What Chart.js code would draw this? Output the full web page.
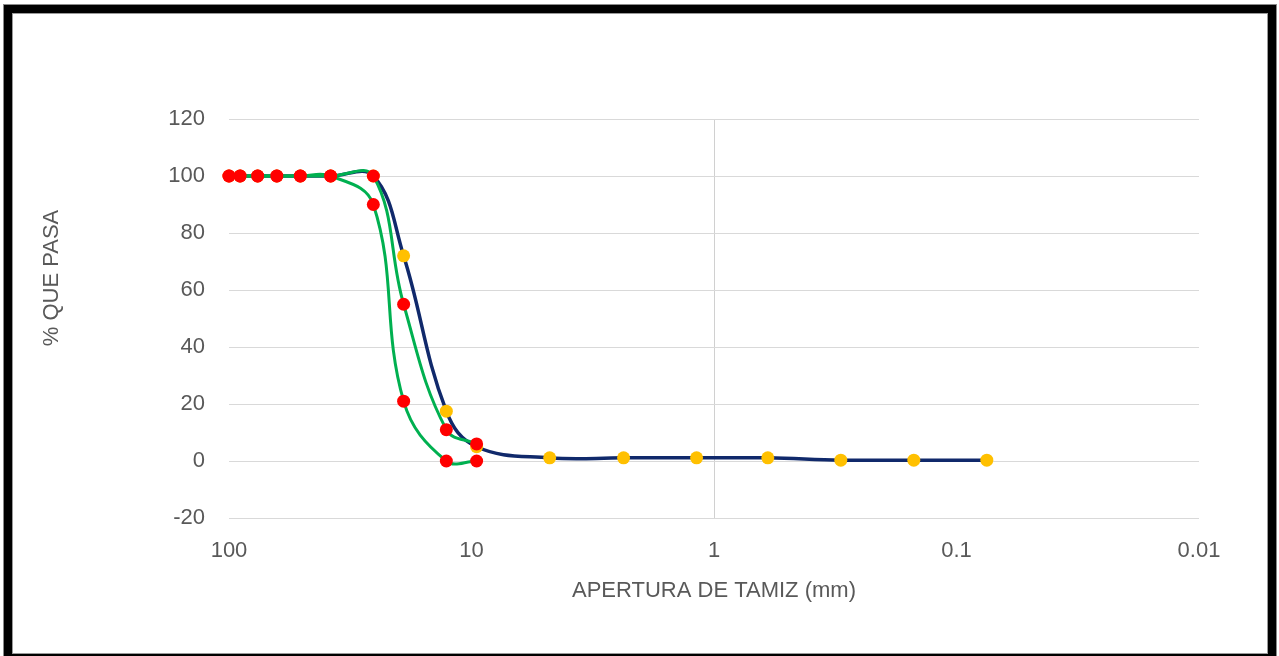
<!DOCTYPE html>
<html>
<head>
<meta charset="utf-8">
<script src="https://cdn.jsdelivr.net/npm/chart.js@4"></script>
<style>
  html, body { margin: 0; padding: 0; background: #fff; overflow: hidden; }
  #wrap { position: absolute; left: 0; top: 0; width: 1279px; height: 656px; }
  #myChart { position: absolute; left: 0; top: 0; }
  #frame {
    position: absolute; left: 4px; top: 5px; width: 1256px; height: 641px;
    border: 8px solid #000; box-shadow: 0 0 0 1px #8a8a8a, inset 0 0 0 1px #9a9a9a;
    pointer-events: none;
  }
</style>
</head>
<body>
<div id="wrap">
  <canvas id="myChart" width="1279" height="656"></canvas>
  <div id="frame"></div>
</div>
<script>
// ***** datos *****
var tamices = [100, 90, 76.2, 63.5, 50.8, 38.1, 25.4, 19.05, 12.7, 9.525, 4.76, 2.36, 1.18, 0.6, 0.3, 0.15, 0.075];
var pasaMuestra = [100, 100, 100, 100, 100, 100, 100, 72, 17.5, 5, 1.1, 1.1, 1.1, 1.1, 0.3, 0.3, 0.3];

var tamicesLimite = [100, 90, 76.2, 63.5, 50.8, 38.1, 25.4, 19.05, 12.7, 9.525];
var limiteSuperior = [100, 100, 100, 100, 100, 100, 100, 55, 11, 6];
var limiteInferior = [100, 100, 100, 100, 100, 100, 90, 21, 0, 0];

var ticksX = [100, 10, 1, 0.1, 0.01];
var ticksY = [-20, 0, 20, 40, 60, 80, 100, 120];

var tituloX = 'APERTURA DE TAMIZ (mm)';
var tituloY = '% QUE PASA';

function puntos(xs, ys) {
    return xs.map(function (x, i) { return { x: x, y: ys[i] }; });
}

var gris = '#595959';
var fuente = { family: '"Liberation Sans", Arial, sans-serif', size: 22 };

// ***** titulos de ejes *****
var titulos = {
    id: 'titulos',
    afterDraw: function (chart) {
        var c = chart.ctx;
        var xs = chart.scales.x;
        c.save();
        c.fillStyle = gris;
        c.font = '22px "Liberation Sans", Arial, sans-serif';
        c.textAlign = 'center';
        c.textBaseline = 'middle';
        c.fillText(tituloX, xs.getPixelForValue(1), 591);
        c.translate(52, 278);
        c.rotate(-Math.PI / 2);
        c.fillText(tituloY, 0, 0);
        c.restore();
    }
};

var ctx = document.getElementById('myChart').getContext('2d');
var chart = new Chart(ctx, {
    type: 'scatter',
    data: {
        datasets: [{
            label: 'Límite superior',
            data: puntos(tamicesLimite, limiteSuperior),
            showLine: true,
            borderColor: '#00b050',
            borderWidth: 3,
            backgroundColor: '#ff0000',
            pointBackgroundColor: '#ff0000',
            pointBorderWidth: 0,
            pointRadius: 6.5,
            tension: 0.4,
            clip: false,
            order: 0
        }, {
            label: 'Límite inferior',
            data: puntos(tamicesLimite, limiteInferior),
            showLine: true,
            borderColor: '#00b050',
            borderWidth: 3,
            backgroundColor: '#ff0000',
            pointBackgroundColor: '#ff0000',
            pointBorderWidth: 0,
            pointRadius: 6.5,
            tension: 0.4,
            clip: false,
            order: 0
        }, {
            label: 'Muestra',
            data: puntos(tamices, pasaMuestra),
            showLine: true,
            borderColor: '#10296b',
            borderWidth: 3.5,
            backgroundColor: '#ffc000',
            pointBackgroundColor: '#ffc000',
            pointBorderWidth: 0,
            pointRadius: 6.5,
            tension: 0.4,
            clip: false,
            order: 1
        }]
    },
    options: {
        responsive: false,
        animation: false,
        events: [],
        layout: { padding: { left: 0, top: 119, right: 80, bottom: 0 } },
        plugins: { legend: { display: false }, tooltip: { enabled: false } },
        scales: {
            x: {
                type: 'logarithmic',
                reverse: true,
                min: 0.01,
                max: 100,
                afterBuildTicks: function (s) {
                    s.ticks = ticksX.map(function (v) { return { value: v, major: false }; });
                },
                afterFit: function (s) { s.height = 138; },
                ticks: {
                    color: gris,
                    font: fuente,
                    padding: 20,
                    maxRotation: 0,
                    autoSkip: false,
                    callback: function (v) { return String(v); }
                },
                grid: {
                    drawTicks: false,
                    lineWidth: 1,
                    color: function (c) { return c.tick && c.tick.value === 1 ? '#d0d0d0' : 'rgba(0,0,0,0)'; }
                },
                border: { display: false }
            },
            y: {
                min: -20,
                max: 120,
                afterBuildTicks: function (s) {
                    s.ticks = ticksY.map(function (v) { return { value: v }; });
                },
                afterFit: function (s) { s.width = 229; },
                ticks: { color: gris, font: fuente, padding: 24 },
                grid: { drawTicks: false, color: '#d9d9d9', lineWidth: 1 },
                border: { display: false }
            }
        }
    },
    plugins: [titulos]
});
</script>
</body>
</html>
